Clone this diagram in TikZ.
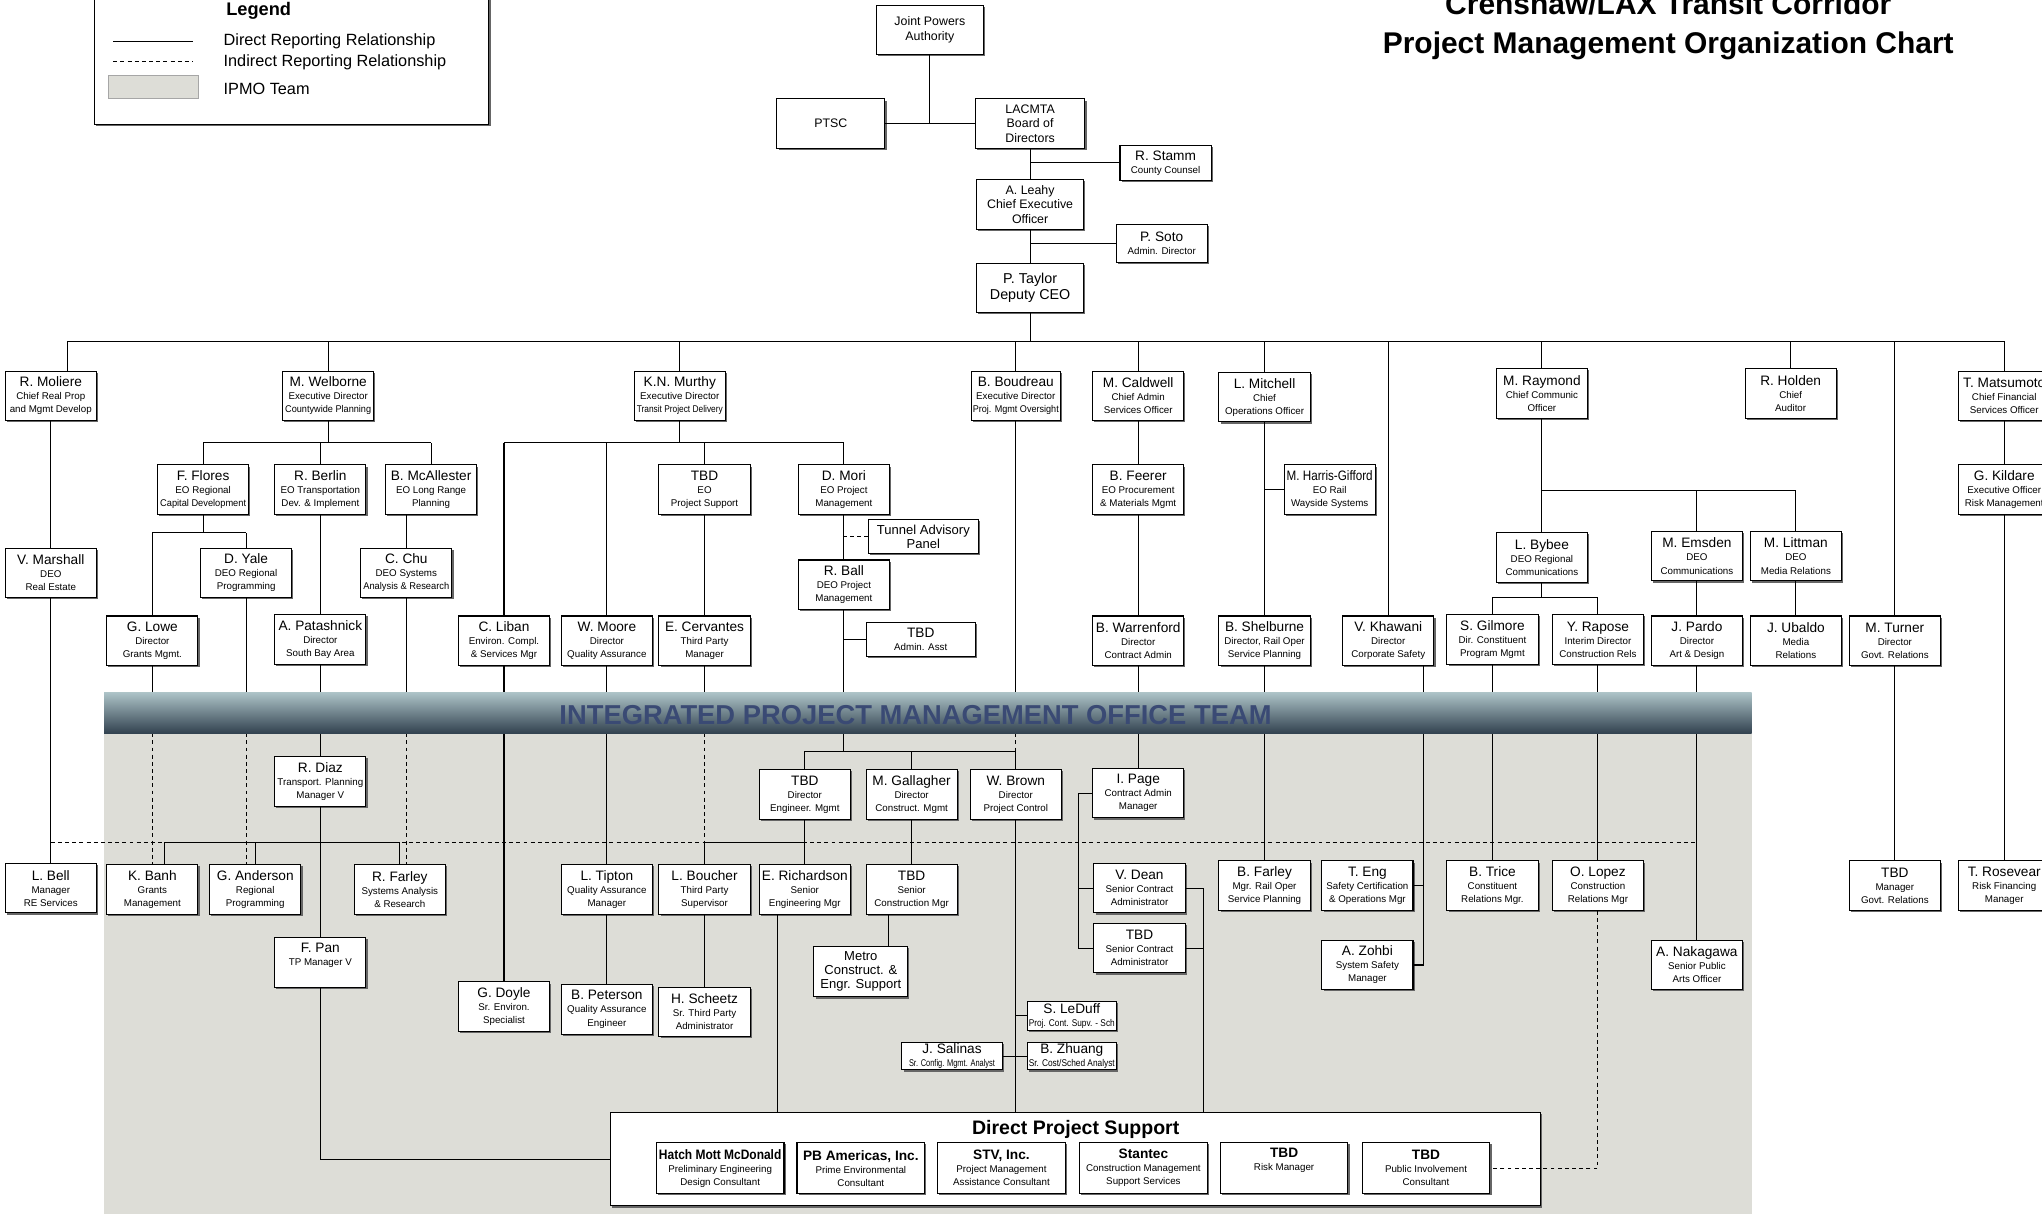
\documentclass[tikz,border=0pt]{standalone}
\usepackage{fontspec}
\setmainfont{Liberation Sans}
\usepackage{graphicx}
\usetikzlibrary{calc,shadows}
\definecolor{ipmo}{RGB}{221,221,215}
\definecolor{bantop}{RGB}{172,194,198}
\definecolor{banbot}{RGB}{50,66,80}
\definecolor{bantxt}{RGB}{58,74,116}
\newsavebox{\fitbox}
\newcommand{\fitln}[2]{\sbox{\fitbox}{#2}\ifdim\wd\fitbox>#1\relax\resizebox{#1}{\height}{\usebox{\fitbox}}\else\usebox{\fitbox}\fi}
\newcommand{\nmf}{\fontsize{10.5}{12}\selectfont}
\newcommand{\sbf}{\fontsize{7.5}{10}\selectfont}
\newcommand{\orgp}[3]{\fitln{66pt}{\nmf #1}\\\fitln{66pt}{\sbf #2}\\\fitln{66pt}{\sbf #3}}
\newcommand{\orgq}[2]{\fitln{66pt}{\nmf #1}\\\fitln{66pt}{\sbf #2}}
\newcommand{\orgc}[3]{\fitln{94pt}{\nmf\bfseries #1}\\\fitln{94pt}{\sbf #2}\\\fitln{94pt}{\sbf #3}}
\tikzset{
  org_b/.style = {rectangle, draw=black, fill=white, line width=0.8pt, inner sep=1pt,
    align=center, font=\sbf, drop shadow={shadow xshift=1.3pt, shadow yshift=-1.3pt,
    fill=black!60, opacity=1}},% plain box
  org_n/.style = {org_b, minimum width=70pt, minimum height=38pt},% person
  org_t/.style = {org_b, minimum width=82pt, minimum height=38pt,
    font=\fontsize{9.5}{11}\selectfont},% top of the chart
  org_s/.style = {org_b, minimum width=70pt, minimum height=27pt},% short box
  org_c/.style = {org_b, minimum width=98pt, minimum height=39pt},% consultant
  lnk_i/.style = {line width=0.8pt, dash pattern=on 3pt off 2.5pt}% indirect
}
\begin{document}
\begin{tikzpicture}[x=1pt, y=-1pt, line width=0.8pt]
\useasboundingbox (0,0) rectangle (1568,932);

\fill[ipmo] (80,563) rectangle (1345,932);

\node[org_b, minimum width=303pt, minimum height=101pt, anchor=north west] (legend) at (72,-6) {};
\node[anchor=west, font=\fontsize{14}{14}\selectfont\bfseries] (legt) at (170,8) {Legend};
\coordinate (lg1a) at (87,32);
\coordinate (lg1b) at (148,32);
\coordinate (lg2a) at (87,47);
\coordinate (lg2b) at (148,47);
\draw (lg1a) -- (lg1b);
\draw[lnk_i] (lg2a) -- (lg2b);
\node[fill=ipmo, draw=black!35, minimum width=69pt, minimum height=18pt] (legsw) at (118,67) {};
\node[anchor=west, font=\fontsize{12.5}{13}\selectfont] (leg1) at (168,32) {Direct Reporting Relationship};
\node[anchor=west, font=\fontsize{12.5}{13}\selectfont] (leg2) at (168,48) {Indirect Reporting Relationship};
\node[anchor=west, font=\fontsize{12.5}{13}\selectfont] (leg3) at (168,68) {IPMO Team};

\node[anchor=base, font=\fontsize{23}{26}\selectfont\bfseries] (ttl1) at (1281,11) {Crenshaw/LAX Transit Corridor};
\node[anchor=base, font=\fontsize{23}{26}\selectfont\bfseries] (ttl2) at (1281,41) {Project Management Organization Chart};

\node[org_t] (jpa) at (714,23) {Joint Powers\\Authority};
\node[org_t, minimum width=83pt] (ptsc) at (638,95) {PTSC};
\node[org_t, minimum width=84pt] (board) at (791,95) {LACMTA\\Board of\\Directors};
\node[org_s] (stamm) at (895,125) {\orgq{R. Stamm}{County Counsel}};
\node[org_t] (leahy) at (791,157) {A. Leahy\\Chief Executive\\Officer};
\node[org_s, minimum height=29pt] (soto) at (892,187) {\orgq{P. Soto}{Admin. Director}};
\node[org_t, font=\fontsize{11}{13}\selectfont] (taylor) at (791,221) {P. Taylor\\Deputy CEO};

\node[org_n] (moliere) at (39,304) {\orgp{R. Moliere}{Chief Real Prop}{and Mgmt Develop}};
\node[org_n] (welborne) at (252,304) {\orgp{M. Welborne}{Executive Director}{Countywide Planning}};
\node[org_n] (murthy) at (522,304) {\orgp{K.N. Murthy}{Executive Director}{Transit Project Delivery}};
\node[org_n, minimum width=66pt] (boudreau) at (780,304) {\orgp{B. Boudreau}{Executive Director}{Proj. Mgmt Oversight}};
\node[org_n] (caldwell) at (874,304) {\orgp{M. Caldwell}{Chief Admin}{Services Officer}};
\node[org_n] (mitchell) at (971,305) {\orgp{L. Mitchell}{Chief}{Operations Officer}};
\node[org_n] (raymond) at (1184,302) {\orgp{M. Raymond}{Chief Communic}{Officer}};
\node[org_n] (holden) at (1375,302) {\orgp{R. Holden}{Chief}{Auditor}};
\node[org_n] (matsumoto) at (1539,304) {\orgp{T. Matsumoto}{Chief Financial}{Services Officer}};

\node[org_n] (flores) at (156,376) {\orgp{F. Flores}{EO Regional}{Capital Development}};
\node[org_n] (berlin) at (246,376) {\orgp{R. Berlin}{EO Transportation}{Dev. \& Implement}};
\node[org_n] (mcallester) at (331,376) {\orgp{B. McAllester}{EO Long Range}{Planning}};
\node[org_n] (tbdeo) at (541,376) {\orgp{TBD}{EO}{Project Support}};
\node[org_n] (mori) at (648,376) {\orgp{D. Mori}{EO Project}{Management}};
\node[org_n] (feerer) at (874,376) {\orgp{B. Feerer}{EO Procurement}{\& Materials Mgmt}};
\node[org_n] (harris) at (1021,376) {\orgp{M. Harris-Gifford}{EO Rail}{Wayside Systems}};
\node[org_n] (kildare) at (1539,376) {\orgp{G. Kildare}{Executive Officer}{Risk Management}};
\node[org_b, minimum width=84pt, minimum height=26pt, font=\fontsize{10}{11}\selectfont] (tunnel) at (709,412) {Tunnel Advisory\\Panel};
\node[org_n] (ball) at (648,449) {\orgp{R. Ball}{DEO Project}{Management}};

\node[org_n] (marshall) at (39,440) {\orgp{V. Marshall}{DEO}{Real Estate}};
\node[org_n] (yale) at (189,440) {\orgp{D. Yale}{DEO Regional}{Programming}};
\node[org_n] (chu) at (312,440) {\orgp{C. Chu}{DEO Systems}{Analysis \& Research}};
\node[org_n] (bybee) at (1184,428) {\orgp{L. Bybee}{DEO Regional}{Communications}};
\node[org_n] (emsden) at (1303,427) {\orgp{M. Emsden}{DEO}{Communications}};
\node[org_n] (littman) at (1379,427) {\orgp{M. Littman}{DEO}{Media Relations}};

\node[org_n] (lowe) at (117,492) {\orgp{G. Lowe}{Director}{Grants Mgmt.}};
\node[org_n] (patashnick) at (246,491) {\orgp{A. Patashnick}{Director}{South Bay Area}};
\node[org_n] (liban) at (387,492) {\orgp{C. Liban}{Environ. Compl.}{\& Services Mgr}};
\node[org_n] (moore) at (466,492) {\orgp{W. Moore}{Director}{Quality Assurance}};
\node[org_n] (cervantes) at (541,492) {\orgp{E. Cervantes}{Third Party}{Manager}};
\node[org_b, minimum width=84pt, minimum height=26pt] (tbdadmin) at (707,491) {\orgq{TBD}{Admin. Asst}};
\node[org_n] (warrenford) at (874,492) {\orgp{B. Warrenford}{Director}{Contract Admin}};
\node[org_n] (shelburne) at (971,492) {\orgp{B. Shelburne}{Director, Rail Oper}{Service Planning}};
\node[org_n] (khawani) at (1066,492) {\orgp{V. Khawani}{Director}{Corporate Safety}};
\node[org_n] (gilmore) at (1146,491) {\orgp{S. Gilmore}{Dir. Constituent}{Program Mgmt}};
\node[org_n] (rapose) at (1227,491) {\orgp{Y. Rapose}{Interim Director}{Construction Rels}};
\node[org_n] (pardo) at (1303,492) {\orgp{J. Pardo}{Director}{Art \& Design}};
\node[org_n] (ubaldo) at (1379,492) {\orgp{J. Ubaldo}{Media}{Relations}};
\node[org_n] (turner) at (1455,492) {\orgp{M. Turner}{Director}{Govt. Relations}};

\node[org_n] (diaz) at (246,600) {\orgp{R. Diaz}{Transport. Planning}{Manager V}};
\node[org_n] (tbdeng) at (618,610) {\orgp{TBD}{Director}{Engineer. Mgmt}};
\node[org_n] (gallagher) at (700,610) {\orgp{M. Gallagher}{Director}{Construct. Mgmt}};
\node[org_n] (brown) at (780,610) {\orgp{W. Brown}{Director}{Project Control}};
\node[org_n] (page) at (874,609) {\orgp{I. Page}{Contract Admin}{Manager}};

\node[org_n] (bell) at (39,682) {\orgp{L. Bell}{Manager}{RE Services}};
\node[org_n] (banh) at (117,683) {\orgp{K. Banh}{Grants}{Management}};
\node[org_n] (anderson) at (196,683) {\orgp{G. Anderson}{Regional}{Programming}};
\node[org_n] (farley) at (307,683) {\orgp{R. Farley}{Systems Analysis}{\& Research}};
\node[org_n] (tipton) at (466,683) {\orgp{L. Tipton}{Quality Assurance}{Manager}};
\node[org_n] (boucher) at (541,683) {\orgp{L. Boucher}{Third Party}{Supervisor}};
\node[org_n] (richardson) at (618,683) {\orgp{E. Richardson}{Senior}{Engineering Mgr}};
\node[org_n] (tbdcon) at (700,683) {\orgp{TBD}{Senior}{Construction Mgr}};
\node[org_n] (dean) at (875,682) {\orgp{V. Dean}{Senior Contract}{Administrator}};
\node[org_n] (bfarley) at (971,680) {\orgp{B. Farley}{Mgr. Rail Oper}{Service Planning}};
\node[org_n] (eng) at (1050,680) {\orgp{T. Eng}{Safety Certification}{\& Operations Mgr}};
\node[org_n] (trice) at (1146,680) {\orgp{B. Trice}{Constituent}{Relations Mgr.}};
\node[org_n] (lopez) at (1227,680) {\orgp{O. Lopez}{Construction}{Relations Mgr}};
\node[org_n] (tbdgov) at (1455,680) {\orgp{TBD}{Manager}{Govt. Relations}};
\node[org_n] (rosevear) at (1539,680) {\orgp{T. Rosevear}{Risk Financing}{Manager}};

\node[org_n] (pan) at (246,739) {\orgp{F. Pan}{TP Manager V}{\strut}};
\node[org_n] (tbdsca) at (875,728) {\orgp{TBD}{Senior Contract}{Administrator}};
\node[org_b, minimum width=72pt, minimum height=39pt, font=\fontsize{10}{11}\selectfont] (metro) at (661,746) {Metro\\Construct. \&\\Engr. Support};
\node[org_n] (zohbi) at (1050,741) {\orgp{A. Zohbi}{System Safety}{Manager}};
\node[org_n] (nakagawa) at (1303,741) {\orgp{A. Nakagawa}{Senior Public}{Arts Officer}};
\node[org_n] (doyle) at (387,773) {\orgp{G. Doyle}{Sr. Environ.}{Specialist}};
\node[org_n] (peterson) at (466,775) {\orgp{B. Peterson}{Quality Assurance}{Engineer}};
\node[org_n] (scheetz) at (541,777) {\orgp{H. Scheetz}{Sr. Third Party}{Administrator}};
\node[org_b, minimum width=68pt, minimum height=22pt] (leduff) at (823,780) {\orgq{S. LeDuff}{Proj. Cont. Supv. - Sch}};
\node[org_b, minimum width=68pt, minimum height=20pt] (zhuang) at (823,811) {\orgq{B. Zhuang}{Sr. Cost/Sched Analyst}};
\node[org_b, minimum width=77pt, minimum height=20pt] (salinas) at (731,811) {\orgq{J. Salinas}{Sr. Config. Mgmt. Analyst}};

\node[org_b, minimum width=714pt, minimum height=72pt] (dps) at (826,890) {};
\node[font=\fontsize{15}{15}\selectfont\bfseries] (dpst) at (826,867) {Direct Project Support};
\node[org_c] (hatch) at (553,897) {\orgc{Hatch Mott McDonald}{Preliminary Engineering}{Design Consultant}};
\node[org_c] (pbam) at (661,897) {\orgc{PB Americas, Inc.}{Prime Environmental}{Consultant}};
\node[org_c] (stv) at (769,897) {\orgc{STV, Inc.}{Project Management}{Assistance Consultant}};
\node[org_c] (stantec) at (878,897) {\orgc{Stantec}{Construction Management}{Support Services}};
\node[org_c] (tbdrisk) at (986,897) {\orgc{TBD}{Risk Manager}{\strut}};
\node[org_c] (tbdpi) at (1095,897) {\orgc{TBD}{Public Involvement}{Consultant}};

\coordinate (barL) at (52,262);
\coordinate (barR) at (1539,262);
\coordinate (wb) at (0,340);
\coordinate (mb) at (0,340);
\coordinate (fb) at (0,409);
\coordinate (rb) at (0,377);
\coordinate (gb) at (0,459);
\coordinate (bnT) at (0,532);
\coordinate (bnB) at (0,563);
\coordinate (jn) at (0,577);
\coordinate (db) at (0,647);
\coordinate (pg) at (828,0);
\coordinate (pr) at (924,0);
\coordinate (kx) at ([xshift=27pt]khawani.south);

\draw (ptsc) -- (board);
\draw (jpa) -- (jpa |- ptsc);
\draw (board) -- (leahy);
\draw (stamm) -- (stamm -| board.south);
\draw (leahy) -- (taylor);
\draw (soto) -- (soto -| leahy.south);
\draw (taylor) -- (taylor |- barL);

\draw (barL) -- (barR);
\draw (barL) -- (barL |- moliere.north);
\draw (welborne) -- (welborne |- barL);
\draw (murthy) -- (murthy |- barL);
\draw (boudreau) -- (boudreau |- barL);
\draw (caldwell) -- (caldwell |- barL);
\draw (mitchell) -- (mitchell |- barL);
\draw (khawani) -- (khawani |- barL);
\draw (raymond) -- (raymond |- barL);
\draw (holden) -- (holden |- barL);
\draw (turner) -- (turner |- barL);
\draw (matsumoto) -- (matsumoto |- barL);

\draw (moliere) -- (marshall);
\draw (marshall) -- (bell);
\draw[lnk_i] (bell |- db) -- (nakagawa |- db);

\draw (welborne) -- (welborne |- wb);
\draw (flores |- wb) -- (mcallester |- wb);
\draw (flores) -- (flores |- wb);
\draw (berlin) -- (berlin |- wb);
\draw (mcallester) -- (mcallester |- wb);
\draw (flores) -- (flores |- fb);
\draw (lowe |- fb) -- (yale |- fb);
\draw (lowe) -- (lowe |- fb);
\draw (yale) -- (yale |- fb);
\draw (berlin) -- (patashnick);
\draw (chu) -- (chu |- mcallester.south);

\draw (lowe) -- (lowe |- bnT);
\draw[lnk_i] (lowe |- bnB) -- (lowe |- banh.north);
\draw (yale) -- (yale |- bnT);
\draw[lnk_i] (yale |- bnB) -- (yale |- anderson.north);
\draw (chu) -- (chu |- bnT);
\draw[lnk_i] (chu |- bnB) -- (chu |- farley.north);
\draw (patashnick) -- (diaz);
\draw (diaz) -- (pan);
\draw ([xshift=9pt]banh.north) |- (farley |- db);
\draw (anderson) -- (anderson |- db);
\draw (farley) -- (farley |- db);
\draw (pan) |- (dps);

\draw (murthy) -- (murthy |- mb);
\draw (liban |- mb) -- (mori |- mb);
\draw (liban) -- (liban |- mb);
\draw (moore) -- (moore |- mb);
\draw (tbdeo) -- (tbdeo |- mb);
\draw (mori) -- (mori |- mb);
\draw (liban) -- (doyle);
\draw (moore) -- (tipton);
\draw (tipton) -- (peterson);
\draw (tbdeo) -- (cervantes);
\draw (cervantes) -- (cervantes |- bnT);
\draw[lnk_i] (cervantes |- bnB) -- (cervantes |- db);
\draw (boucher) -- (scheetz);

\draw (mori) -- (ball);
\draw[lnk_i] (tunnel) -- (tunnel -| mori.south);
\draw (tbdadmin) -- (tbdadmin -| ball.south);
\draw (ball) -- (ball |- jn);
\draw (tbdeng |- jn) -- (brown |- jn);
\draw (tbdeng) -- (tbdeng |- jn);
\draw (gallagher) -- (gallagher |- jn);
\draw (brown) -- (brown |- jn);
\draw (boudreau) -- (boudreau |- bnT);
\draw[lnk_i] (boudreau |- bnB) -- (boudreau |- jn);

\draw (tbdeng) -- (richardson);
\draw (tbdeng |- db) -| (boucher);
\draw (gallagher) -- (tbdcon);
\draw ([xshift=-18pt]tbdcon.south) -- ([xshift=-18pt]tbdcon.south |- metro.north);
\draw ([xshift=-21pt]richardson.south) -- ([xshift=-21pt]richardson.south |- dps.north);
\draw (brown) -- (brown |- dps.north);
\draw (leduff) -- (leduff -| brown.south);
\draw (salinas) -- (zhuang);

\draw (caldwell) -- (feerer);
\draw (feerer) -- (warrenford);
\draw (warrenford) -- (page);
\draw (page) -- (page -| pg) -- (pg |- tbdsca) -- (tbdsca);
\draw (pg |- dean) -- (dean);
\draw (dean) -- (dean -| pr) -- (pr |- dps.north);
\draw (tbdsca) -- (tbdsca -| pr);

\draw (mitchell) -- (shelburne);
\draw (harris) -- (harris -| mitchell.south);
\draw (shelburne) -- (bfarley);
\draw (kx) -- (kx |- zohbi) -- (zohbi);
\draw (eng) -- (eng -| kx);

\draw (raymond) -- (bybee);
\draw (raymond |- rb) -- (littman |- rb);
\draw (emsden) -- (emsden |- rb);
\draw (littman) -- (littman |- rb);
\draw (bybee) -- (bybee |- gb);
\draw (gilmore |- gb) -- (rapose |- gb);
\draw (gilmore) -- (gilmore |- gb);
\draw (rapose) -- (rapose |- gb);
\draw (gilmore) -- (trice);
\draw (rapose) -- (lopez);
\draw (emsden) -- (pardo);
\draw (pardo) -- (nakagawa);
\draw (littman) -- (ubaldo);
\draw (turner) -- (tbdgov);
\draw (matsumoto) -- (kildare);
\draw (kildare) -- (rosevear);
\draw[lnk_i] (lopez) |- (tbdpi);

\node[minimum width=1265pt, minimum height=31pt, inner sep=0pt, top color=bantop,
  bottom color=banbot] (banner) at (712.5,547.5) {};
\node[text=bantxt, font=\fontsize{21}{21}\selectfont\bfseries] (bantxt) at (703,549) {INTEGRATED PROJECT MANAGEMENT OFFICE TEAM};
\end{tikzpicture}
\end{document}
